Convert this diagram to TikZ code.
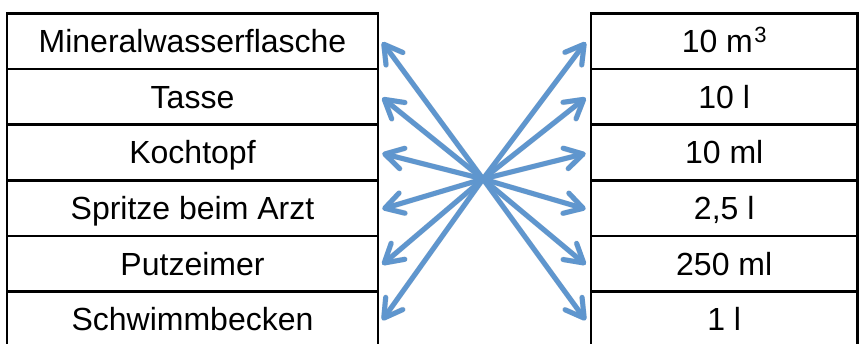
\documentclass[tikz,border=0pt]{standalone}
\usepackage{fontspec}
\setmainfont{Liberation Sans}
\usetikzlibrary{arrows.meta}
\definecolor{arrowblue}{RGB}{95,150,206}
\newcommand{\cubed}{\hspace{1.5pt}\raisebox{10pt}{\fontsize{22}{24}\selectfont 3}}
\begin{document}
\begin{tikzpicture}[x=1pt,y=-1pt,
  cell/.style={draw=black,line width=2.6pt,inner sep=0pt,
    minimum height=55.6pt,text height=23pt,text depth=0pt,
    font=\fontsize{32}{36}\selectfont},
  leftcell/.style={cell,minimum width=371pt},
  rightcell/.style={cell,minimum width=266.5pt},
  link/.style={draw=arrowblue,line width=5pt,line cap=round,
    -{Straight Barb[length=18pt,width=21pt,line width=5pt,round]}},
  linkshadow/.style={draw=black!35,opacity=0.3,line width=5.5pt,line cap=round,
    -{Straight Barb[length=18pt,width=21pt,line width=5.5pt,round]}}]
\useasboundingbox (0,0) rectangle (859,343);
\clip (0,0) rectangle (859,343);

% left column: containers
\node[leftcell] (L1) at (192.5,41.2)  {Mineralwasserflasche};
\node[leftcell] (L2) at (192.5,96.8)  {Tasse};
\node[leftcell] (L3) at (192.5,152.4) {Kochtopf};
\node[leftcell] (L4) at (192.5,208.0) {Spritze beim Arzt};
\node[leftcell] (L5) at (192.5,263.6) {Putzeimer};
\node[leftcell] (L6) at (192.5,319.2) {Schwimmbecken};

% right column: volumes
\node[rightcell] (R1) at (724.2,41.2)  {10 m\cubed};
\node[rightcell] (R2) at (724.2,96.8)  {10 l};
\node[rightcell] (R3) at (724.2,152.4) {10 ml};
\node[rightcell] (R4) at (724.2,208.0) {2,5 l};
\node[rightcell] (R5) at (724.2,263.6) {250 ml};
\node[rightcell] (R6) at (724.2,319.2) {1 l};

% common crossing point of all arrows
\coordinate (C) at (483,179);

% soft shadows under the arrows
\begin{scope}[shift={(1.5,2.5)}]
\foreach \i in {1,...,6}{
  \draw[linkshadow] (C) -- ([xshift=3pt,yshift=-1pt]L\i.east);
  \draw[linkshadow] (C) -- ([xshift=-4pt,yshift=-1pt]R\i.west);
}
\end{scope}

% arrows
\foreach \i in {1,...,6}{
  \draw[link] (C) -- ([xshift=3pt,yshift=-1pt]L\i.east);
  \draw[link] (C) -- ([xshift=-4pt,yshift=-1pt]R\i.west);
}
\end{tikzpicture}
\end{document}
